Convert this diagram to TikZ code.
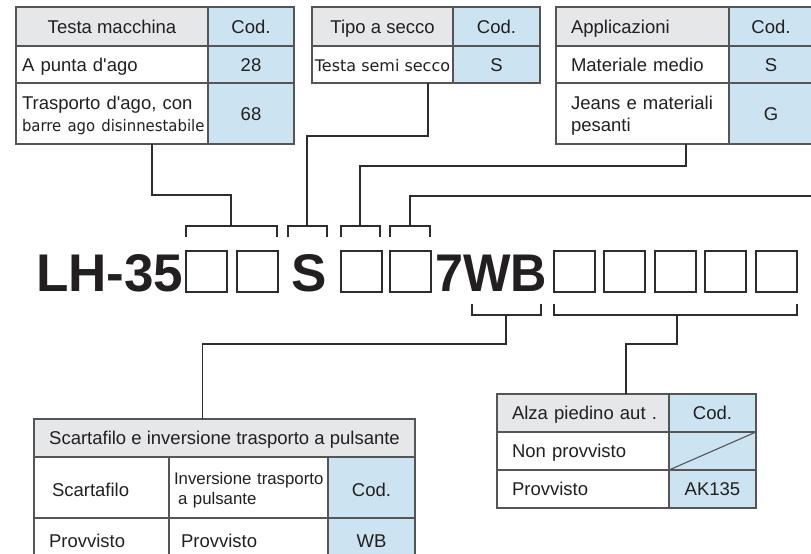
\documentclass[tikz,border=0pt]{standalone}
\usepackage{fontspec}
\setmainfont{Liberation Sans}
\newfontfamily\dejavu{DejaVu Sans}
\newfontfamily\dejavunarrow[FakeStretch=0.93]{DejaVu Sans}
\newfontfamily\codenarrow[FakeStretch=0.95]{Liberation Sans}
\usetikzlibrary{positioning}

\definecolor{hdrgray}{RGB}{230,231,232}
\definecolor{codblue}{RGB}{204,228,241}
\definecolor{rulecol}{RGB}{85,85,85}
\definecolor{wirecol}{RGB}{45,45,45}
\definecolor{ink}{RGB}{35,31,32}

\newcommand{\cellfont}{\fontsize{18.5pt}{22pt}\selectfont}
\newcommand{\codefont}{\fontsize{53pt}{60pt}\selectfont\bfseries}

\tikzset{
  cell/.style={draw=rulecol, line width=1.1pt, inner sep=0pt, outer sep=0pt, text=ink, font=\cellfont,
               text height=14pt, text depth=0.7pt},
  twoline/.style={text depth=#1},
  hdr/.style={cell, fill=hdrgray},
  cod/.style={cell, fill=codblue},
  cellsize/.style 2 args={minimum width=#1, minimum height=#2},
  lpad/.style={text width=#1, align=left},
  slot/.style={draw=wirecol, line width=1.8pt, minimum size=41pt, inner sep=0pt, outer sep=0pt, anchor=north west},
  code/.style={text=ink, font=\codefont, inner sep=0pt, anchor=base west},
  wire/.style={draw=wirecol, line width=1.2pt},
  brk/.style={draw=wirecol, line width=1.2pt},
}

\begin{document}
\begin{tikzpicture}[x=1pt, y=-1pt]
    \clip (0,0) rectangle (811,554);

    % Testa macchina
    \node [hdr, cellsize={192pt}{39pt}, anchor=north west]           (tmH) at (16,7)  {Testa macchina};
    \node [cod, cellsize={86pt}{39pt}, right=0pt of tmH]             (tmHc)           {Cod.};
    \node [cell, cellsize={192pt}{37pt}, lpad=180pt, below=0pt of tmH] (tmA)          {A punta d\textquotesingle ago};
    \node [cod, cellsize={86pt}{37pt}, right=0pt of tmA]             (tmAc)           {28};
    \node [cell, twoline=22.7pt, cellsize={192pt}{61pt}, lpad=180pt, below=0pt of tmA] (tmB)
          {Trasporto d\textquotesingle ago, con\\\mbox{\dejavunarrow\fontsize{16pt}{22pt}\selectfont barre ago disinnestabile}};
    \node [cod, cellsize={86pt}{61pt}, right=0pt of tmB]             (tmBc)           {68};

    % Tipo a secco
    \node [hdr, cellsize={141pt}{39pt}, anchor=north west]           (tsH) at (312,7) {Tipo a secco};
    \node [cod, cellsize={87pt}{39pt}, right=0pt of tsH]             (tsHc)           {Cod.};
    \node [cell, cellsize={141pt}{37pt}, below=0pt of tsH,
           font=\dejavu\fontsize{16pt}{20pt}\selectfont]             (tsA)            {Testa semi secco};
    \node [cod, cellsize={87pt}{37pt}, right=0pt of tsA]             (tsAc)           {S};

    % Applicazioni
    \node [hdr, cellsize={173pt}{39pt}, lpad=143pt, anchor=north west] (apH) at (556,7) {Applicazioni};
    \node [cod, cellsize={84pt}{39pt}, right=0pt of apH]             (apHc)           {Cod.};
    \node [cell, cellsize={173pt}{37pt}, lpad=143pt, below=0pt of apH] (apA)          {Materiale medio};
    \node [cod, cellsize={84pt}{37pt}, right=0pt of apA]             (apAc)           {S};
    \node [cell, twoline=22.7pt, cellsize={173pt}{61pt}, lpad=143pt, below=0pt of apA] (apB) {Jeans e materiali\\pesanti};
    \node [cod, cellsize={84pt}{61pt}, right=0pt of apB]             (apBc)           {G};

    % Code
    \node [code] (lh) at (36,291)  {LH-35};
    \node [code] (sc) at (291,291) {S};
    \node [code] (wb) at (435,291) {\codenarrow 7WB};
    \foreach \x [count=\i] in {186,237,341,390,554,604,655,705,756}
        \node [slot] (slot\i) at (\x,251) {};

    % Brackets
    \foreach \a/\b/\m [count=\i] in {186/277/231, 288/327/307, 341/380/360, 390/430/410} {
        \draw [brk] (\a,237) |- (\b,226) -- (\b,237);
        \coordinate (up\i) at (\m,226);
    }
    \foreach \a/\b/\m [count=\i] in {472/541/506, 554/797/677} {
        \draw [brk] (\a,304) |- (\b,315) -- (\b,304);
        \coordinate (dn\i) at (\m,315);
    }

    % Scartafilo e inversione
    \node [hdr, cellsize={381pt}{38pt}, anchor=north west]           (scH) at (34,419) {Scartafilo e inversione trasporto a pulsante};
    \node [cell, text height=19.5pt, cellsize={135pt}{61pt}, lpad=99pt, anchor=north west] (scA) at (scH.south west) {Scartafilo};
    \node [cell, twoline=20.7pt, cellsize={159pt}{61pt}, lpad=149pt, right=0pt of scA,
           font=\fontsize{16.8pt}{20pt}\selectfont]                  (scB)            {\mbox{Inversione trasporto}\\\hspace*{4pt}a pulsante};
    \node [cod, text height=19.5pt, cellsize={87pt}{61pt}, right=0pt of scB] (scBc)   {Cod.};
    \node [cell, cellsize={135pt}{46pt}, lpad=105pt, below=0pt of scA] (scC)          {Provvisto};
    \node [cell, cellsize={159pt}{46pt}, lpad=135pt, right=0pt of scC] (scD)          {Provvisto};
    \node [cod, cellsize={87pt}{46pt}, right=0pt of scD]             (scDc)           {WB};

    % Alza piedino
    \node [hdr, cellsize={172pt}{38pt}, lpad=142pt, anchor=north west] (alH) at (497,394) {\mbox{Alza piedino aut .}};
    \node [cod, cellsize={87pt}{38pt}, right=0pt of alH]             (alHc)           {Cod.};
    \node [cell, cellsize={172pt}{38pt}, lpad=142pt, below=0pt of alH] (alA)          {Non provvisto};
    \node [cod, cellsize={87pt}{38pt}, right=0pt of alA]             (alAc)           {};
    \node [cell, cellsize={172pt}{38pt}, lpad=142pt, below=0pt of alA] (alB)          {Provvisto};
    \node [cod, cellsize={87pt}{38pt}, right=0pt of alB]             (alBc)           {AK135};
    \draw [draw=rulecol, line width=1.1pt] (alAc.south west) -- (alAc.north east);

    % Connectors
    \coordinate (apOut) at (812,196);
    \draw [wire] ([xshift=-56pt]tmB.south east) -- ++(0,51) -| (up1);
    \draw [wire] ([xshift=-25pt]tsA.south east) -- ++(0,53) -| (up2);
    \draw [wire] ([xshift=-43pt]apB.south east) -- ++(0,22) -| (up3);
    \draw [wire] (apOut) -| (up4);
    \draw [wire] (dn1) -- ++(0,29) -| ([xshift=-22pt]scH.north);
    \draw [wire] (dn2) -- ++(0,29) -| ([xshift=43pt]alH.north);

\end{tikzpicture}
\end{document}
